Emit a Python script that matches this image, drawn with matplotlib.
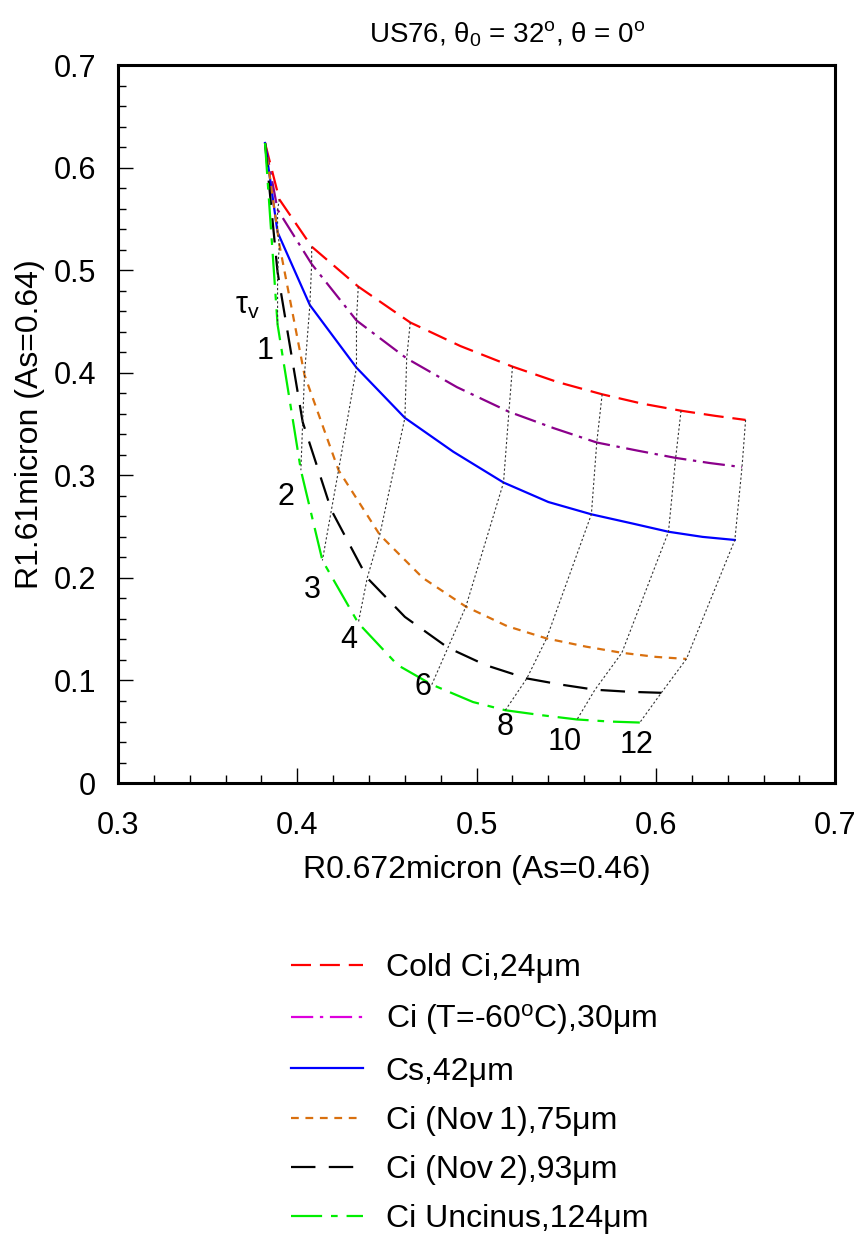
import matplotlib
matplotlib.use("Agg")
import matplotlib.pyplot as plt
from matplotlib.lines import Line2D
from matplotlib.ticker import MultipleLocator

plt.rcParams['font.family'] = ['Liberation Sans', 'DejaVu Sans']
plt.rcParams['mathtext.fontset'] = 'custom'
plt.rcParams['mathtext.rm'] = 'Liberation Sans'
plt.rcParams['mathtext.it'] = 'Liberation Sans:italic'

# optical thickness at each node of the curves
tau = [0, 1, 2, 3, 4, 5, 6, 7, 8, 9, 10, 11, 12]
tau_grid = [1, 2, 3, 4, 6, 8, 10, 12]
tau_labels = ['1', '2', '3', '4', '6', '8', '10', '12']

cold_x = [.382, .390, .408, .434, .463, .491, .520, .545, .570, .592, .614, .633, .650]
cold_y = [.624, .569, .523, .484, .449, .426, .406, .391, .379, .370, .363, .358, .354]

t60_x = [.382, .389, .408, .433, .461, .489, .518, .543, .567, .590, .611, .630, .648]
t60_y = [.624, .559, .506, .451, .414, .386, .362, .346, .332, .324, .317, .312, .308]

cs_x = [.382, .389, .407, .433, .460, .487, .515, .540, .564, .587, .607, .626, .644]
cs_y = [.624, .537, .466, .405, .356, .323, .293, .274, .262, .253, .245, .240, .237]

nov1_x = [.382, .390, .404, .423, .446, .470, .494, .517, .539, .561, .581, .600, .617]
nov1_y = [.624, .525, .398, .305, .242, .200, .172, .153, .141, .133, .127, .123, .121]

nov2_x = [.382, .389, .403, .419, .439, .460, .484, .505, .528, .547, .566, .585, .603]
nov2_y = [.624, .498, .352, .266, .200, .162, .132, .115, .102, .096, .091, .089, .088]

unc_x = [.382, .389, .402, .414, .434, .456, .475, .498, .516, .537, .556, .574, .591]
unc_y = [.624, .447, .305, .217, .156, .115, .096, .079, .071, .066, .062, .060, .059]

names = ['Cold Ci,24\u03bcm', 'Ci (T=-60$^{\\rm o}$C),30\u03bcm', 'Cs,42\u03bcm',
         'Ci (Nov\u20091),75\u03bcm', 'Ci (Nov\u20092),93\u03bcm', 'Ci Uncinus,124\u03bcm']

curves = [(cold_x, cold_y), (t60_x, t60_y), (cs_x, cs_y),
          (nov1_x, nov1_y), (nov2_x, nov2_y), (unc_x, unc_y)]
colors = ['#ff0000', '#8b008b', '#0000ff', '#d9700f', '#000000', '#00ee00']
legend_colors = ['#ff0000', '#dd00dd', '#0000ff', '#d9700f', '#000000', '#00ee00']
dashes = [(9, 4), (10, 3, 1.5, 3), None, (3.5, 3), (11, 6), (14, 4, 3, 4)]

fig = plt.figure(figsize=(8.58, 12.41), dpi=100)
ax = fig.add_axes([0.1375, 0.369, 0.836, 0.5786])

for (xs, ys), c, d in zip(curves, colors, dashes):
    if d is None:
        ax.plot(xs, ys, color=c, lw=1.6)
    else:
        ax.plot(xs, ys, color=c, lw=1.6, dashes=d)

# iso-tau grid lines across the six curves
for t in tau_grid:
    i = tau.index(t)
    gx = [xs[i] for xs, ys in curves]
    gy = [ys[i] for xs, ys in curves]
    ax.plot(gx, gy, color='#333333', lw=0.8, dashes=(2, 2))

# tau labels beside the lowest curve
offs = [(-9, -19), (-11, -19), (-7, -21), (-7, -12), (-6, -2), (0, -12), (-9, -16), (-2, -16)]
for t, lab, (dx, dy) in zip(tau_grid, tau_labels, offs):
    i = tau.index(t)
    ax.annotate(lab, (unc_x[i], unc_y[i]), xytext=(dx, dy), textcoords='offset points',
                ha='center', va='center', fontsize=22)
ax.annotate('\u03c4$_{\\rm v}$', (unc_x[1], unc_y[1]), xytext=(-22, 13),
            textcoords='offset points', ha='center', va='center', fontsize=22)

ax.set_xlim(0.3, 0.7)
ax.set_ylim(0, 0.7)
ax.set_xticks([0.3, 0.4, 0.5, 0.6, 0.7])
ax.set_xticklabels(['0.3', '0.4', '0.5', '0.6', '0.7'])
ax.set_yticks([0, 0.1, 0.2, 0.3, 0.4, 0.5, 0.6, 0.7])
ax.set_yticklabels(['0', '0.1', '0.2', '0.3', '0.4', '0.5', '0.6', '0.7'])
ax.xaxis.set_minor_locator(MultipleLocator(0.02))
ax.yaxis.set_minor_locator(MultipleLocator(0.02))
ax.tick_params(which='major', direction='in', length=11, width=1, labelsize=22)
ax.tick_params(axis='x', which='major', pad=20)
ax.tick_params(axis='y', which='major', pad=16)
ax.tick_params(which='minor', direction='in', length=6, width=1)
for s in ax.spines.values():
    s.set_linewidth(2.2)

ax.set_xlabel('R0.672micron (As=0.46)', fontsize=23, labelpad=10)
ax.set_ylabel('R1.61micron (As=0.64)', fontsize=23, labelpad=6)
ax.set_title('US76, \u03b8$_0$ = 32$^{\\rm o}$, \u03b8 = 0$^{\\rm o}$', fontsize=20,
             pad=16, x=0.543)

handles = []
for c, d in zip(legend_colors, dashes):
    if d is None:
        handles.append(Line2D([], [], color=c, lw=1.6))
    else:
        handles.append(Line2D([], [], color=c, lw=1.6, dashes=d))
fig.legend(handles, names, loc='upper left', bbox_to_anchor=(0.3055, 0.255),
           frameon=False, fontsize=23, handlelength=2.25, handletextpad=0.72,
           labelspacing=0.6)

fig.savefig('out.png', dpi=100)
